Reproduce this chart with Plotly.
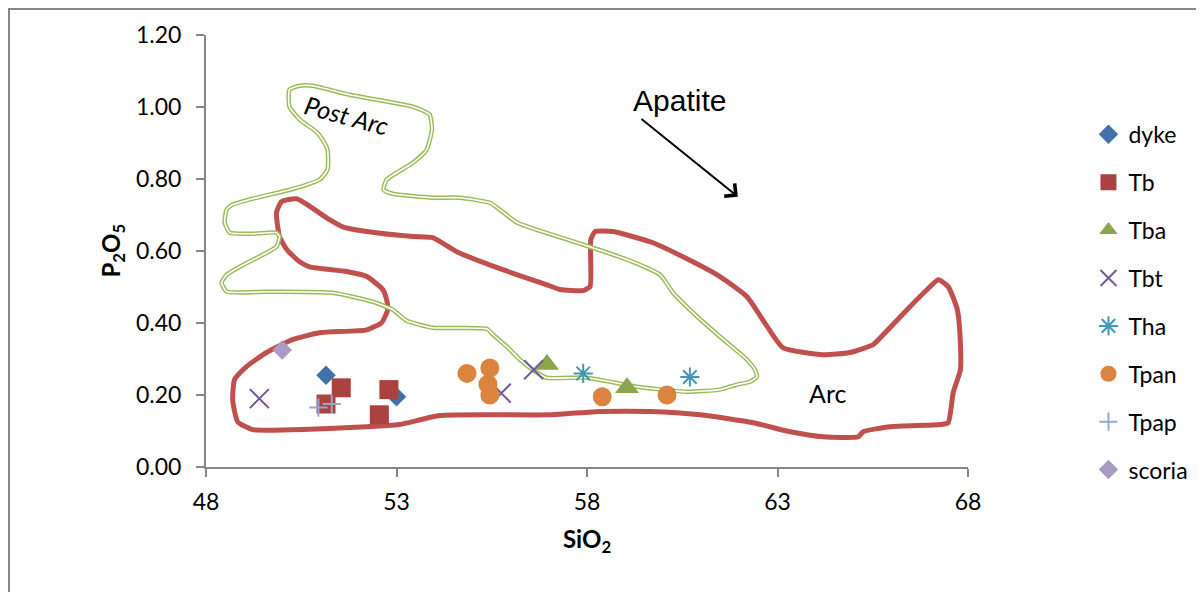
import plotly.graph_objects as go

# ---------------- data ----------------
# "Arc" field outline (SiO2, P2O5)
arc_sio2 = [50.38, 51.24, 51.59, 52.22, 53.43, 53.95, 54.58, 55.79, 56.95, 57.29,
            57.89, 58.08, 58.10, 58.21, 58.68, 59.73, 60.78, 61.49, 62.20, 62.73,
            63.15, 64.20, 64.91, 65.51, 65.78, 66.40, 66.93, 67.22, 67.48, 67.72,
            67.80, 67.80, 67.61, 67.48, 67.27, 65.96, 65.25, 65.12, 64.20, 63.33,
            62.36, 60.97, 59.65, 58.34, 57.03, 54.14, 53.08, 52.22, 49.22, 48.83,
            48.70, 48.75, 49.06, 49.59, 50.27, 50.98, 52.22, 52.61, 52.77, 52.74,
            52.64, 52.22, 51.69, 50.72, 50.46, 50.12, 49.93, 49.85, 49.98, 50.38]
arc_p2o5 = [0.745, 0.687, 0.667, 0.654, 0.640, 0.637, 0.598, 0.548, 0.506, 0.493,
            0.490, 0.501, 0.631, 0.654, 0.654, 0.623, 0.570, 0.529, 0.473, 0.390,
            0.331, 0.312, 0.318, 0.340, 0.368, 0.437, 0.493, 0.520, 0.501, 0.437,
            0.345, 0.270, 0.206, 0.123, 0.118, 0.112, 0.098, 0.084, 0.084, 0.098,
            0.123, 0.145, 0.154, 0.154, 0.145, 0.143, 0.118, 0.112, 0.104, 0.126,
            0.187, 0.243, 0.279, 0.318, 0.354, 0.373, 0.381, 0.401, 0.437, 0.465,
            0.493, 0.529, 0.543, 0.556, 0.570, 0.604, 0.640, 0.706, 0.737, 0.745]

# "Post Arc" field outline (SiO2, P2O5)
post_sio2 = [50.19, 50.46, 50.80, 51.77, 53.43, 53.87, 53.93, 53.79, 53.43, 52.74,
             52.66, 52.90, 53.95, 54.66, 55.45, 55.71, 56.16, 56.68, 58.15, 59.20,
             59.92, 60.26, 60.89, 61.49, 62.20, 62.41, 62.46, 62.28, 61.94, 61.49,
             60.62, 59.31, 57.99, 56.94, 56.58, 56.24, 55.90, 55.53, 55.37, 53.95,
             53.27, 52.90, 52.38, 51.32, 49.59, 48.54, 48.41, 48.54, 48.88, 49.59,
             49.85, 49.93, 49.85, 49.22, 48.62, 48.49, 48.54, 48.70, 49.14, 50.12,
             50.64, 50.98, 51.19, 51.19, 51.06, 50.90, 50.46, 50.19, 50.19]
post_p2o5 = [1.048, 1.059, 1.059, 1.034, 1.001, 0.979, 0.937, 0.881, 0.845, 0.798,
             0.770, 0.759, 0.748, 0.748, 0.734, 0.715, 0.679, 0.659, 0.609, 0.570,
             0.534, 0.484, 0.418, 0.362, 0.298, 0.270, 0.251, 0.237, 0.229, 0.215,
             0.209, 0.223, 0.248, 0.248, 0.270, 0.298, 0.334, 0.368, 0.384, 0.387,
             0.406, 0.437, 0.459, 0.484, 0.487, 0.487, 0.512, 0.534, 0.556, 0.595,
             0.612, 0.640, 0.651, 0.648, 0.651, 0.679, 0.715, 0.729, 0.743, 0.768,
             0.784, 0.798, 0.826, 0.881, 0.909, 0.931, 0.965, 1.001, 1.048]

# samples
dyke_sio2 = [51.15, 53.0]
dyke_p2o5 = [0.255, 0.195]
tb_sio2 = [51.55, 51.15, 52.8, 52.55]
tb_p2o5 = [0.22, 0.175, 0.215, 0.145]
tba_sio2 = [56.95, 59.05]
tba_p2o5 = [0.285, 0.22]
tbt_sio2 = [49.4, 55.75, 56.6]
tbt_p2o5 = [0.19, 0.205, 0.27]
tha_sio2 = [57.9, 60.7]
tha_p2o5 = [0.26, 0.25]
tpan_sio2 = [54.85, 55.45, 55.4, 55.45, 58.4, 60.1]
tpan_p2o5 = [0.26, 0.275, 0.23, 0.2, 0.195, 0.2]
tpap_sio2 = [50.95, 51.3]
tpap_p2o5 = [0.165, 0.175]
scoria_sio2 = [50.0]
scoria_p2o5 = [0.325]

x_ticks = [48, 53, 58, 63, 68]
y_ticks = [0.0, 0.2, 0.4, 0.6, 0.8, 1.0, 1.2]

# ---------------- figure ----------------
FONT = "Lato"
fig = go.Figure()

# field outlines
fig.add_trace(go.Scatter(x=arc_sio2, y=arc_p2o5, mode="lines",
                         line=dict(color="#C0504D", width=5, shape="spline", smoothing=0.5),
                         showlegend=False, hoverinfo="skip"))
fig.add_trace(go.Scatter(x=post_sio2, y=post_p2o5, mode="lines",
                         line=dict(color="#9BBB59", width=4.5, shape="spline", smoothing=0.5),
                         showlegend=False, hoverinfo="skip"))
fig.add_trace(go.Scatter(x=post_sio2, y=post_p2o5, mode="lines",
                         line=dict(color="white", width=1.6, shape="spline", smoothing=0.5),
                         showlegend=False, hoverinfo="skip"))

series = [
    ("dyke", dyke_sio2, dyke_p2o5, "diamond", 15, "#4170AB"),
    ("Tb", tb_sio2, tb_p2o5, "square", 19, "#AA423F"),
    ("Tba", tba_sio2, tba_p2o5, "triangle-up", 21, "#89A54E"),
    ("Tbt", tbt_sio2, tbt_p2o5, "x-thin-open", 19, "#71589C"),
    ("Tha", tha_sio2, tha_p2o5, "asterisk-open", 16, "#4198B5"),
    ("Tpan", tpan_sio2, tpan_p2o5, "circle", 19, "#DB843D"),
    ("Tpap", tpap_sio2, tpap_p2o5, "cross-thin-open", 13, "#93A9CF"),
    ("scoria", scoria_sio2, scoria_p2o5, "diamond", 15, "#A99BC5"),
]
for name, xs, ys, sym, size, col in series:
    open_sym = sym.endswith("-open")
    fig.add_trace(go.Scatter(
        x=xs, y=ys, mode="markers", name=name, legendgroup=name,
        marker=dict(symbol=sym, size=size, color=col,
                    line=dict(width=2 if open_sym else 0, color=col)),
    ))

annotations = [
    dict(text="Apatite", x=60.44, y=1.0175, xref="x", yref="y", showarrow=False,
         xanchor="center", yanchor="middle",
         font=dict(family="Liberation Sans", size=30, color="black")),
    dict(text="", x=61.96, y=0.751, ax=59.39, ay=0.970, xref="x", yref="y",
         axref="x", ayref="y", showarrow=True, arrowhead=4, arrowsize=1.6,
         arrowwidth=2, arrowcolor="black"),
    dict(text="Post Arc", x=51.69, y=0.979, xref="x", yref="y", showarrow=False,
         xanchor="center", yanchor="middle", textangle=15,
         font=dict(family=FONT, size=25, color="black", style="italic")),
    dict(text="Arc", x=64.30, y=0.206, xref="x", yref="y", showarrow=False,
         xanchor="center", yanchor="middle",
         font=dict(family=FONT, size=25, color="black")),
    dict(text="<b>SiO<sub>2</sub></b>", x=0.5, y=-0.171, xref="paper", yref="paper",
         xanchor="center", yanchor="middle", showarrow=False,
         font=dict(family=FONT, size=24, color="black")),
    dict(text="<b>P<sub>2</sub>O<sub>5</sub></b>", x=-0.124, y=0.5, xref="paper",
         yref="paper", xanchor="center", yanchor="middle", showarrow=False,
         textangle=-90, font=dict(family=FONT, size=24, color="black")),
]

fig.update_layout(
    width=1196, height=584,
    margin=dict(l=198, r=236, t=27, b=125, pad=0, autoexpand=False),
    paper_bgcolor="white", plot_bgcolor="white",
    font=dict(family=FONT, size=23, color="black"),
    showlegend=True,
    legend=dict(xref="container", yref="container", x=0.9034, y=0.8205,
                xanchor="left", yanchor="top", maxheight=1.0,
                font=dict(family=FONT, size=23, color="black"),
                tracegroupgap=15, bgcolor="rgba(0,0,0,0)"),
    annotations=annotations,
    shapes=[dict(type="rect", xref="paper", yref="paper", x0=-0.2585, x1=1.6,
                 y0=-0.6, y1=1.060, line=dict(color="#878787", width=2),
                 fillcolor="rgba(0,0,0,0)", layer="below")],
)
fig.update_xaxes(range=[48, 68], tickvals=x_ticks, ticktext=[str(v) for v in x_ticks],
                 showgrid=False, zeroline=False, showline=True, linecolor="#868686",
                 linewidth=2, ticks="outside", ticklen=8, tickwidth=2, tickcolor="#868686",
                 ticklabelstandoff=5, tickfont=dict(family=FONT, size=23, color="black"))
fig.update_yaxes(range=[0, 1.2], tickvals=y_ticks, ticktext=[f"{v:.2f}" for v in y_ticks],
                 showgrid=False, zeroline=False, showline=True, linecolor="#868686",
                 linewidth=2, ticks="outside", ticklen=8, tickwidth=2, tickcolor="#868686",
                 ticklabelstandoff=10, tickfont=dict(family=FONT, size=23, color="black"))

fig.write_html("out.html")
